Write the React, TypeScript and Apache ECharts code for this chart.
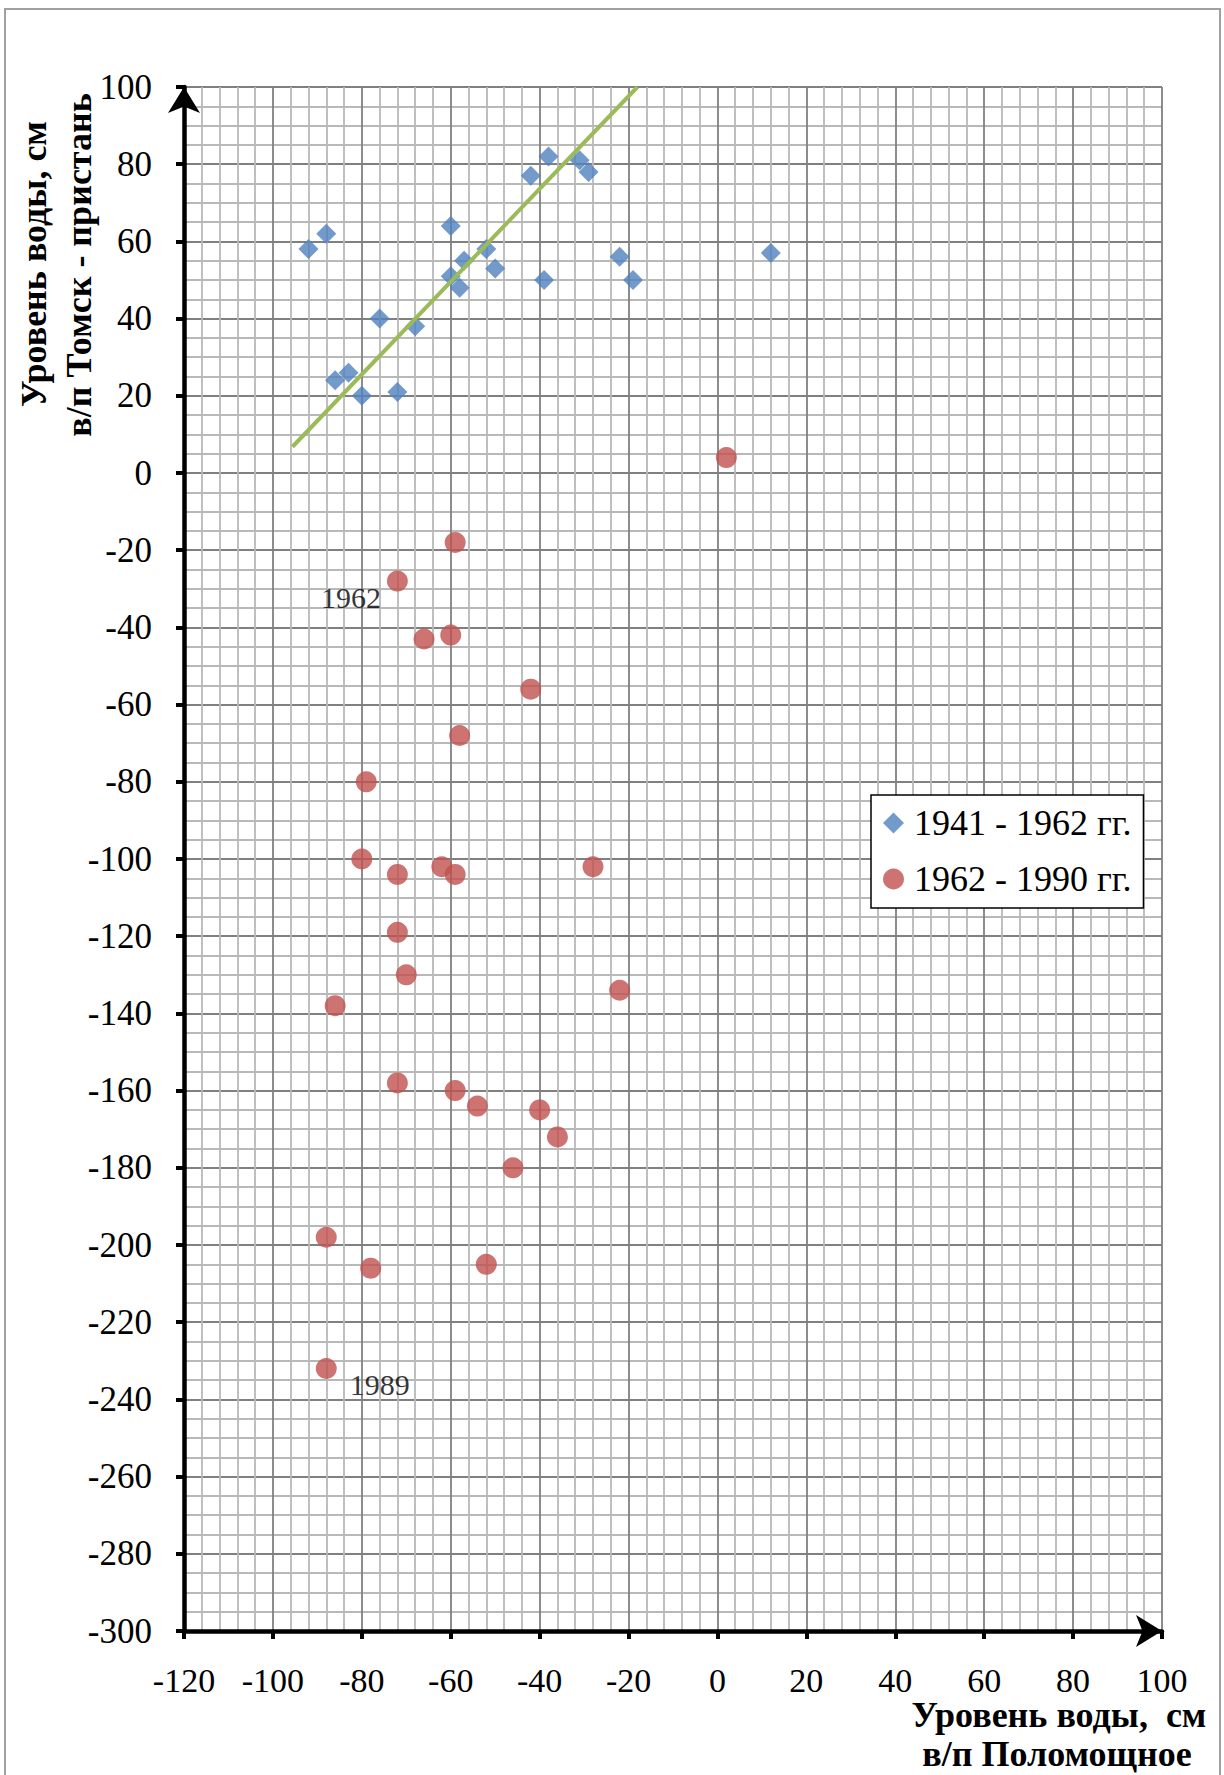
import React, { useEffect, useRef } from "react";
import * as echarts from "echarts";

const FONT = "'Liberation Serif', 'Times New Roman', serif";

// Axis ranges / ticks
const xMin = -120;
const xMax = 100;
const xStep = 20;
const yMin = -300;
const yMax = 100;
const yStep = 20;

// Series names
const series1Name = "1941 - 1962 гг.";
const series2Name = "1962 - 1990 гг.";

// 1941 - 1962: x = Поломощное, y = Томск
const data1941_1962: [number, number][] = [
  [-92, 58], [-88, 62], [-86, 24], [-83, 26], [-80, 20], [-76, 40],
  [-72, 21], [-68, 38], [-60, 64], [-60, 51], [-58, 48], [-57, 55],
  [-52, 58], [-50, 53], [-42, 77], [-38, 82], [-39, 50], [-31, 81],
  [-29, 78], [-22, 56], [-19, 50], [12, 57],
];

// 1962 - 1990
const data1962_1990: [number, number][] = [
  [2, 4], [-59, -18], [-72, -28], [-66, -43], [-60, -42], [-42, -56],
  [-58, -68], [-79, -80], [-80, -100], [-72, -104], [-62, -102], [-59, -104],
  [-28, -102], [-72, -119], [-70, -130], [-86, -138], [-22, -134], [-72, -158],
  [-59, -160], [-54, -164], [-40, -165], [-36, -172], [-46, -180], [-88, -198],
  [-78, -206], [-52, -205], [-88, -232],
];

// Linear trend line for 1941-1962 (endpoints)
const trendLine: [number, number][] = [
  [-95.6, 6.8],
  [-18, 100],
];

// Year annotations on individual points
const annotations = [
  { point: [-72, -28], text: "1962", side: "left" },
  { point: [-88, -232], text: "1989", side: "right" },
];

const yTitleLines = ["Уровень воды, см", "в/п Томск - пристань"];
const xTitleLines = ["Уровень воды,  см", "в/п Поломощное"];

export default function App() {
  const ref = useRef<HTMLDivElement>(null);

  useEffect(() => {
    if (!ref.current) return;
    const chart = echarts.init(ref.current, undefined, { renderer: "svg" });

    const redData = data1962_1990.map((p) => {
      const ann = annotations.find((a) => a.point[0] === p[0] && a.point[1] === p[1]);
      if (!ann) return p;
      return {
        value: p,
        label: {
          show: true,
          formatter: ann.text,
          position: ann.side,
          distance: ann.side === "left" ? 6 : 13,
          offset: [0, 16],
          color: "#000",
          textBorderWidth: 0,
          fontFamily: FONT,
          fontSize: 30,
        },
      };
    });

    const axisLineStyle = { color: "#000", width: 4.5 };

    const option: any = {
      animation: false,
      backgroundColor: "#fff",
      grid: { left: 184, top: 87, width: 978, height: 1544, containLabel: false },
      xAxis: {
        type: "value",
        min: xMin,
        max: xMax,
        interval: xStep,
        position: "bottom",
        axisLine: {
          show: true,
          onZero: false,
          lineStyle: axisLineStyle,
          symbol: ["none", "arrow"],
          symbolSize: [24, 26],
          symbolOffset: [0, 0],
        },
        axisTick: { show: true, length: 8, lineStyle: { color: "#000", width: 4 } },
        axisLabel: {
          color: "#000",
          fontFamily: FONT,
          fontSize: 34,
          margin: 32,
        },
        splitLine: { show: true, lineStyle: { color: "#808080", width: 1.8 } },
        minorTick: { show: false, splitNumber: 5 },
        minorSplitLine: { show: true, lineStyle: { color: "#B8B8B8", width: 1.8 } },
      },
      yAxis: {
        type: "value",
        min: yMin,
        max: yMax,
        interval: yStep,
        position: "left",
        axisLine: {
          show: true,
          onZero: false,
          lineStyle: axisLineStyle,
          symbol: ["none", "arrow"],
          symbolSize: [24, 26],
          symbolOffset: [0, 0],
        },
        axisTick: { show: true, length: 8, lineStyle: { color: "#000", width: 4 } },
        axisLabel: {
          color: "#000",
          fontFamily: FONT,
          fontSize: 35,
          margin: 32,
        },
        splitLine: { show: true, lineStyle: { color: "#808080", width: 1.8 } },
        minorTick: { show: false, splitNumber: 4 },
        minorSplitLine: { show: true, lineStyle: { color: "#B8B8B8", width: 1.8 } },
      },
      legend: {
        show: true,
        orient: "vertical",
        left: 871,
        top: 795,
        padding: [10, 12, 11, 12],
        itemGap: 20,
        itemWidth: 21,
        itemHeight: 21,
        backgroundColor: "#fff",
        borderColor: "#000",
        borderWidth: 1.5,
        data: [series1Name, series2Name],
        textStyle: {
          color: "#000",
          fontFamily: FONT,
          fontSize: 36,
          padding: [0, 0, 0, 5],
        },
      },
      series: [
        {
          name: series1Name,
          type: "scatter",
          symbol: "diamond",
          symbolSize: 20,
          itemStyle: { color: "#4F81BD" },
          data: data1941_1962,
          z: 2,
        },
        {
          name: series2Name,
          type: "scatter",
          symbol: "circle",
          symbolSize: 21,
          itemStyle: { color: "#C0504D" },
          data: redData,
          z: 2,
        },
        {
          name: "trend",
          type: "line",
          data: trendLine,
          showSymbol: false,
          symbol: "none",
          lineStyle: { color: "#9BBB59", width: 4 },
          silent: true,
          z: 3,
        },
      ],
      graphic: [
        {
          type: "rect",
          shape: { x: 5, y: 9, width: 1215, height: 1800 },
          style: { fill: "none", stroke: "#A0A0A0", lineWidth: 2 },
          silent: true,
        },
        {
          type: "text",
          x: 34,
          y: 264,
          rotation: Math.PI / 2,
          style: {
            text: yTitleLines[0],
            font: `bold 36px ${FONT}`,
            fill: "#000",
            align: "center",
            verticalAlign: "middle",
          },
        },
        {
          type: "text",
          x: 79,
          y: 265,
          rotation: Math.PI / 2,
          style: {
            text: yTitleLines[1],
            font: `bold 36px ${FONT}`,
            fill: "#000",
            align: "center",
            verticalAlign: "middle",
          },
        },
        {
          type: "text",
          x: 1059,
          y: 1715,
          style: {
            text: xTitleLines[0],
            font: `bold 36px ${FONT}`,
            fill: "#000",
            align: "center",
            verticalAlign: "middle",
          },
        },
        {
          type: "text",
          x: 1057,
          y: 1754,
          style: {
            text: xTitleLines[1],
            font: `bold 36px ${FONT}`,
            fill: "#000",
            align: "center",
            verticalAlign: "middle",
          },
        },
      ],
    };

    chart.setOption(option);
    return () => {
      chart.dispose();
    };
  }, []);

  return (
    <div
      ref={ref}
      style={{ position: "absolute", left: 0, top: 0, width: 1224, height: 1775 }}
    />
  );
}
